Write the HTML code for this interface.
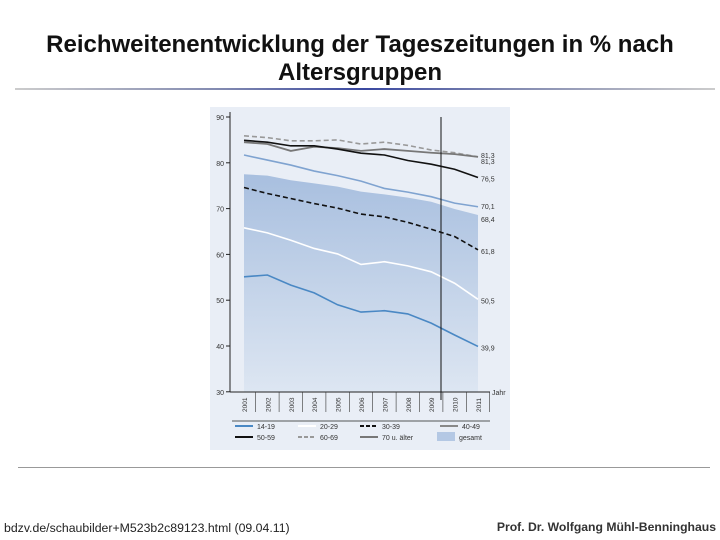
<!DOCTYPE html>
<html><head><meta charset="utf-8"><style>
body{margin:0;width:720px;height:540px;background:#fff;overflow:hidden;font-family:"Liberation Sans",sans-serif;position:relative}
.t{position:absolute;left:0;width:720px;text-align:center;font-size:24px;font-weight:bold;color:#111}
</style></head><body>
<div class="t" style="top:31px;line-height:28px">Reichweitenentwicklung der Tageszeitungen in % nach<br>Altersgruppen</div>
<div style="position:absolute;left:15px;top:88px;width:700px;height:2px;background:linear-gradient(90deg,#ccc,#8088b0 30%,#3a48a0 50%,#8088b0 70%,#ccc)"></div>
<div style="position:absolute;left:18px;top:467px;width:692px;height:1px;background:#999"></div>
<div style="position:absolute;left:4px;top:521px;font-size:12.3px;color:#222">bdzv.de/schaubilder+M523b2c89123.html (09.04.11)</div>
<div style="position:absolute;right:4px;top:520px;font-size:12.2px;font-weight:bold;color:#333">Prof. Dr. Wolfgang Mühl-Benninghaus</div>
<svg id="c" width="720" height="540" style="position:absolute;left:0;top:0">
<defs><linearGradient id="gg" x1="0" y1="0" x2="0" y2="1"><stop offset="0" stop-color="#a8bfdf"/><stop offset="1" stop-color="#dde6f2"/></linearGradient></defs>
</svg>
<script>
const years=[2001,2002,2003,2004,2005,2006,2007,2008,2009,2010,2011];
const yTicks=[90,80,70,60,50,40,30];
const s1419=[55.1,55.5,53.3,51.6,49.0,47.4,47.7,47.0,45.0,42.4,39.9];
const s2029=[65.8,64.7,63.1,61.3,60.1,57.8,58.4,57.5,56.2,53.7,50.2];
const s3039=[74.6,73.3,72.2,71.1,70.1,68.8,68.2,67.0,65.5,63.9,61.0];
const s4049=[81.7,80.6,79.5,78.2,77.2,76.0,74.4,73.6,72.6,71.2,70.4];
const gesamt=[77.5,77.2,76.2,75.5,74.8,73.7,73.1,72.4,71.5,69.9,68.6];
const s5059=[84.9,84.5,83.7,83.7,83.0,82.1,81.7,80.5,79.7,78.6,76.8];
const s6069=[85.9,85.5,84.8,84.8,85.0,84.1,84.5,83.8,82.8,82.2,81.3];
const s70=[84.5,84.1,82.6,83.5,83.2,82.6,83.0,82.6,82.2,81.9,81.3];
const endLabels=["39,9","50,5","61,8","70,1","68,4","76,5","81,3","81,3"];
const NS="http://www.w3.org/2000/svg";
const svg=document.getElementById('c');
const X=i=>244+i*23.4, Y=v=>117+(90-v)*4.58;
function el(t,a,p){const e=document.createElementNS(NS,t);for(const k in a)e.setAttribute(k,a[k]);(p||svg).appendChild(e);return e;}
const bg=el('rect',{x:210,y:107,width:300,height:343,fill:'#e9eef6'});


let d='M'+X(0)+','+Y(30);gesamt.forEach((v,i)=>d+='L'+X(i)+','+Y(v));d+='L'+X(10)+','+Y(30)+'Z';
const ar=el('path',{d:d,fill:'url(#gg)'});


function line(arr,col,w,dash,name){let p='';arr.forEach((v,i)=>p+=(i?'L':'M')+X(i)+','+Y(v));const l=el('path',{d:p,fill:'none',stroke:col,'stroke-width':w,'stroke-dasharray':dash||'none'});

}
line(s1419,'#4a88c4',1.6,null,'line-14-19');
line(s2029,'#ffffff',1.6,null,'line-20-29');
line(s3039,'#111',1.6,'5,3','line-30-39');
line(s4049,'#7fa3d0',1.6,null,'line-40-49');
line(s6069,'#999',1.6,'5,3','line-60-69');
line(s70,'#777',1.8,null,'line-70-plus');
line(s5059,'#111',1.6,null,'line-50-59');
el('line',{x1:230,y1:112,x2:230,y2:392,stroke:'#222'});
el('line',{x1:230,y1:392,x2:490,y2:392,stroke:'#222'});
el('line',{x1:441,y1:117,x2:441,y2:400,stroke:'#111'});
yTicks.forEach(v=>{el('line',{x1:226,y1:Y(v),x2:230,y2:Y(v),stroke:'#222'});const t=el('text',{x:224,y:Y(v)+3,'font-size':7,'text-anchor':'end',fill:'#333'});t.textContent=v;

});
years.forEach((y,i)=>{el('line',{x1:X(i)+11.7,y1:392,x2:X(i)+11.7,y2:412,stroke:'#333','stroke-width':0.6});const t=el('text',{x:X(i)+3,y:412,'font-size':6.5,fill:'#333',transform:'rotate(-90 '+(X(i)+3)+' 412)'});t.textContent=y;

});
const jt=el('text',{x:492,y:395,'font-size':7,fill:'#333'});jt.textContent='Jahr';
const ends=[s1419,s2029,s3039,s4049,gesamt,s5059,s6069,s70];
const offs=[1,1,1,-1,4,1,-2,4];
ends.forEach((a,i)=>{const t=el('text',{x:481,y:Y(a[10])+3+offs[i],'font-size':7,fill:'#333'});t.textContent=endLabels[i];

});
const lg=[['14-19','#4a88c4',0,235,426],['20-29','#fff',0,298,426],['30-39','#111',1,360,426],['40-49','#888',0,440,426],
['50-59','#111',0,235,437],['60-69','#999',1,298,437],['70 u. älter','#777',0,360,437]];
el('line',{x1:232,y1:421,x2:490,y2:421,stroke:'#222','stroke-width':0.8});
lg.forEach(g=>{el('line',{x1:g[3],y1:g[4],x2:g[3]+18,y2:g[4],stroke:g[1],'stroke-width':2,'stroke-dasharray':g[2]?'4,2':'none'});const t=el('text',{x:g[3]+22,y:g[4]+3,'font-size':7,fill:'#333'});t.textContent=g[0];

});
el('rect',{x:437,y:432,width:18,height:9,fill:'#b4c8e4'});
const gt=el('text',{x:459,y:440,'font-size':7,fill:'#333'});gt.textContent='gesamt';


</script>
</body></html>
